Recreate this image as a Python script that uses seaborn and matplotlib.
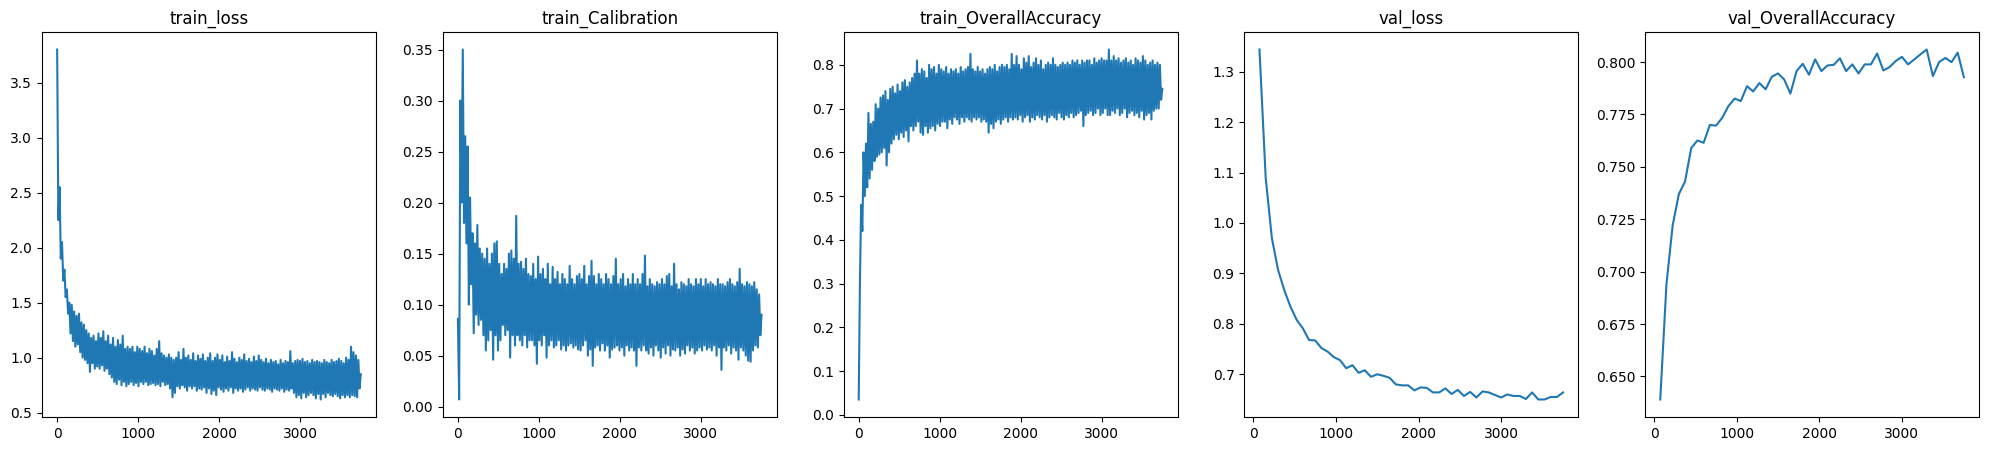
import numpy as np
import matplotlib
matplotlib.use("Agg")
import matplotlib.pyplot as plt
import seaborn as sns

# training metrics logged every 15 steps, validation every 75 steps
train_steps = list(range(0, 3751, 15))
val_steps = list(range(75, 3751, 75))

train_loss = [
    3.80, 2.25, 2.55, 1.90, 2.05, 1.70, 1.80, 1.55, 1.62, 1.40,
    1.50, 1.22, 1.48, 1.15, 1.42, 1.10, 1.38, 1.12, 1.40, 1.05,
    1.32, 1.00, 1.30, 0.98, 1.25, 0.95, 1.22, 0.87, 1.18, 0.95,
    1.20, 0.90, 1.15, 0.92, 1.22, 0.90, 1.18, 0.93, 1.24, 0.88,
    1.15, 0.90, 1.20, 0.85, 1.12, 0.82, 1.18, 0.78, 1.10, 0.76,
    1.16, 0.80, 1.12, 0.75, 1.20, 0.78, 1.08, 0.74, 1.10, 0.76,
    1.08, 0.78, 1.10, 0.75, 1.05, 0.77, 1.10, 0.74, 1.08, 0.78,
    1.06, 0.76, 1.10, 0.78, 1.04, 0.75, 1.08, 0.76, 1.06, 0.77,
    1.02, 0.75, 1.08, 0.76, 1.15, 0.74, 1.04, 0.78, 1.02, 0.75,
    1.00, 0.76, 1.03, 0.72, 1.00, 0.64, 0.98, 0.68, 1.00, 0.74,
    1.05, 0.72, 0.98, 0.75, 1.08, 0.73, 1.00, 0.70, 1.02, 0.74,
    0.98, 0.72, 1.04, 0.74, 0.97, 0.70, 1.02, 0.72, 0.99, 0.71,
    1.03, 0.73, 0.97, 0.68, 1.00, 0.72, 1.04, 0.67, 0.97, 0.70,
    1.00, 0.66, 1.03, 0.73, 0.98, 0.71, 1.02, 0.69, 0.96, 0.72,
    1.01, 0.70, 0.97, 0.73, 1.05, 0.68, 0.99, 0.72, 0.96, 0.70,
    1.00, 0.72, 0.98, 0.69, 1.03, 0.71, 0.97, 0.73, 0.99, 0.70,
    0.96, 0.72, 1.01, 0.71, 0.97, 0.70, 1.02, 0.73, 0.98, 0.71,
    0.96, 0.70, 0.99, 0.72, 0.95, 0.71, 0.98, 0.69, 0.96, 0.72,
    0.97, 0.71, 0.94, 0.70, 0.98, 0.72, 0.95, 0.69, 0.97, 0.71,
    0.96, 0.70, 1.06, 0.72, 0.95, 0.68, 0.97, 0.64, 0.98, 0.66,
    0.97, 0.63, 0.99, 0.68, 0.96, 0.64, 0.97, 0.66, 0.95, 0.68,
    0.98, 0.66, 0.96, 0.63, 0.97, 0.67, 0.96, 0.62, 0.95, 0.67,
    0.98, 0.64, 0.96, 0.68, 0.95, 0.66, 0.98, 0.65, 0.96, 0.67,
    0.97, 0.65, 0.99, 0.63, 0.97, 0.66, 0.95, 0.64, 1.00, 0.66,
    0.98, 0.64, 1.10, 0.66, 1.05, 0.65, 1.02, 0.64, 0.98, 0.72,
    0.85,
]

train_calibration = [
    0.086, 0.007, 0.300, 0.200, 0.350, 0.180, 0.265, 0.160, 0.255, 0.100,
    0.205, 0.120, 0.170, 0.072, 0.160, 0.090, 0.178, 0.080, 0.155, 0.085,
    0.150, 0.070, 0.145, 0.055, 0.155, 0.065, 0.140, 0.075, 0.150, 0.046,
    0.160, 0.070, 0.162, 0.055, 0.140, 0.065, 0.130, 0.080, 0.140, 0.070,
    0.135, 0.075, 0.150, 0.048, 0.153, 0.070, 0.145, 0.060, 0.187, 0.070,
    0.140, 0.065, 0.142, 0.060, 0.135, 0.070, 0.145, 0.058, 0.130, 0.065,
    0.128, 0.065, 0.140, 0.060, 0.125, 0.042, 0.147, 0.065, 0.130, 0.060,
    0.135, 0.070, 0.125, 0.048, 0.140, 0.060, 0.120, 0.065, 0.137, 0.058,
    0.125, 0.060, 0.132, 0.065, 0.120, 0.056, 0.130, 0.060, 0.125, 0.055,
    0.120, 0.060, 0.138, 0.062, 0.125, 0.058, 0.120, 0.060, 0.128, 0.056,
    0.130, 0.055, 0.125, 0.060, 0.138, 0.065, 0.120, 0.050, 0.128, 0.056,
    0.143, 0.040, 0.128, 0.058, 0.120, 0.060, 0.130, 0.055, 0.125, 0.062,
    0.120, 0.055, 0.130, 0.060, 0.125, 0.048, 0.120, 0.056, 0.128, 0.058,
    0.145, 0.060, 0.120, 0.055, 0.125, 0.058, 0.130, 0.050, 0.118, 0.060,
    0.125, 0.055, 0.120, 0.058, 0.130, 0.055, 0.120, 0.040, 0.125, 0.058,
    0.120, 0.055, 0.130, 0.060, 0.148, 0.055, 0.118, 0.052, 0.125, 0.058,
    0.120, 0.050, 0.118, 0.060, 0.122, 0.055, 0.120, 0.048, 0.125, 0.058,
    0.120, 0.052, 0.128, 0.060, 0.130, 0.050, 0.118, 0.056, 0.140, 0.055,
    0.120, 0.058, 0.115, 0.050, 0.122, 0.056, 0.120, 0.052, 0.118, 0.060,
    0.125, 0.055, 0.120, 0.058, 0.118, 0.052, 0.125, 0.055, 0.120, 0.058,
    0.125, 0.055, 0.118, 0.060, 0.125, 0.056, 0.120, 0.058, 0.122, 0.055,
    0.120, 0.060, 0.118, 0.050, 0.125, 0.058, 0.120, 0.036, 0.120, 0.058,
    0.118, 0.055, 0.122, 0.060, 0.125, 0.052, 0.120, 0.058, 0.118, 0.055,
    0.122, 0.046, 0.135, 0.058, 0.120, 0.055, 0.118, 0.050, 0.122, 0.045,
    0.120, 0.044, 0.118, 0.055, 0.122, 0.060, 0.115, 0.058, 0.110, 0.070,
    0.090,
]

train_accuracy = [
    0.035, 0.300, 0.480, 0.420, 0.600, 0.500, 0.620, 0.520, 0.690, 0.540,
    0.665, 0.560, 0.670, 0.580, 0.710, 0.590, 0.700, 0.595, 0.725, 0.600,
    0.730, 0.610, 0.740, 0.570, 0.720, 0.600, 0.745, 0.620, 0.750, 0.630,
    0.735, 0.640, 0.755, 0.630, 0.740, 0.645, 0.760, 0.635, 0.765, 0.650,
    0.750, 0.625, 0.760, 0.660, 0.770, 0.650, 0.780, 0.660, 0.810, 0.670,
    0.780, 0.645, 0.790, 0.640, 0.785, 0.660, 0.770, 0.645, 0.800, 0.655,
    0.790, 0.660, 0.795, 0.650, 0.780, 0.665, 0.800, 0.660, 0.790, 0.670,
    0.785, 0.670, 0.795, 0.655, 0.780, 0.675, 0.790, 0.665, 0.785, 0.680,
    0.790, 0.675, 0.780, 0.665, 0.795, 0.680, 0.785, 0.670, 0.790, 0.680,
    0.795, 0.675, 0.825, 0.670, 0.790, 0.680, 0.785, 0.675, 0.795, 0.680,
    0.785, 0.670, 0.790, 0.675, 0.780, 0.670, 0.790, 0.645, 0.795, 0.665,
    0.790, 0.655, 0.800, 0.670, 0.785, 0.675, 0.795, 0.665, 0.800, 0.675,
    0.795, 0.680, 0.800, 0.670, 0.790, 0.680, 0.825, 0.675, 0.800, 0.680,
    0.820, 0.675, 0.800, 0.685, 0.790, 0.670, 0.815, 0.680, 0.805, 0.685,
    0.820, 0.670, 0.795, 0.680, 0.805, 0.675, 0.815, 0.685, 0.800, 0.680,
    0.810, 0.675, 0.790, 0.685, 0.800, 0.670, 0.805, 0.680, 0.800, 0.685,
    0.815, 0.680, 0.800, 0.675, 0.795, 0.690, 0.800, 0.680, 0.805, 0.675,
    0.800, 0.685, 0.805, 0.680, 0.800, 0.690, 0.810, 0.680, 0.805, 0.685,
    0.810, 0.690, 0.800, 0.695, 0.810, 0.660, 0.805, 0.685, 0.810, 0.690,
    0.810, 0.695, 0.800, 0.685, 0.815, 0.690, 0.805, 0.700, 0.810, 0.685,
    0.815, 0.690, 0.810, 0.700, 0.810, 0.685, 0.835, 0.685, 0.810, 0.695,
    0.820, 0.690, 0.810, 0.700, 0.815, 0.685, 0.805, 0.690, 0.810, 0.700,
    0.815, 0.680, 0.805, 0.690, 0.810, 0.695, 0.800, 0.685, 0.815, 0.690,
    0.810, 0.680, 0.805, 0.695, 0.820, 0.675, 0.810, 0.685, 0.800, 0.690,
    0.805, 0.675, 0.810, 0.695, 0.800, 0.700, 0.805, 0.700, 0.800, 0.720,
    0.745,
]

val_loss = [
    1.344, 1.090, 0.970, 0.907, 0.867, 0.834, 0.808, 0.791, 0.768, 0.767,
    0.752, 0.745, 0.734, 0.728, 0.712, 0.718, 0.703, 0.708, 0.695, 0.700,
    0.697, 0.693, 0.680, 0.678, 0.678, 0.668, 0.674, 0.673, 0.664, 0.664,
    0.672, 0.661, 0.669, 0.657, 0.665, 0.654, 0.666, 0.664, 0.659, 0.654,
    0.660, 0.657, 0.657, 0.651, 0.664, 0.650, 0.650, 0.655, 0.655, 0.664,
]

val_accuracy = [
    0.6390, 0.6940, 0.7220, 0.7370, 0.7430, 0.7590, 0.7626, 0.7615, 0.7700, 0.7697,
    0.7734, 0.7790, 0.7826, 0.7814, 0.7885, 0.7860, 0.7900, 0.7870, 0.7930, 0.7946,
    0.7917, 0.7850, 0.7957, 0.7992, 0.7940, 0.8013, 0.7957, 0.7984, 0.7987, 0.8018,
    0.7957, 0.7989, 0.7946, 0.7989, 0.7989, 0.8041, 0.7960, 0.7976, 0.8005, 0.8025,
    0.7989, 0.8013, 0.8037, 0.8060, 0.7933, 0.8000, 0.8020, 0.8000, 0.8045, 0.7928,
]

panels = [
    ("train_loss", train_steps, train_loss),
    ("train_Calibration", train_steps, train_calibration),
    ("train_OverallAccuracy", train_steps, train_accuracy),
    ("val_loss", val_steps, val_loss),
    ("val_OverallAccuracy", val_steps, val_accuracy),
]

fig, axes = plt.subplots(1, 5, figsize=(19.89, 4.51), dpi=100)
fig.subplots_adjust(left=0.0211, right=0.995, top=0.929, bottom=0.0754, wspace=0.2)

for ax, (name, steps, values) in zip(axes, panels):
    sns.lineplot(x=steps, y=values, ax=ax, color="#1f77b4", linewidth=1.5)
    ax.set_title(name)

fig.savefig("out.png", dpi=100)
